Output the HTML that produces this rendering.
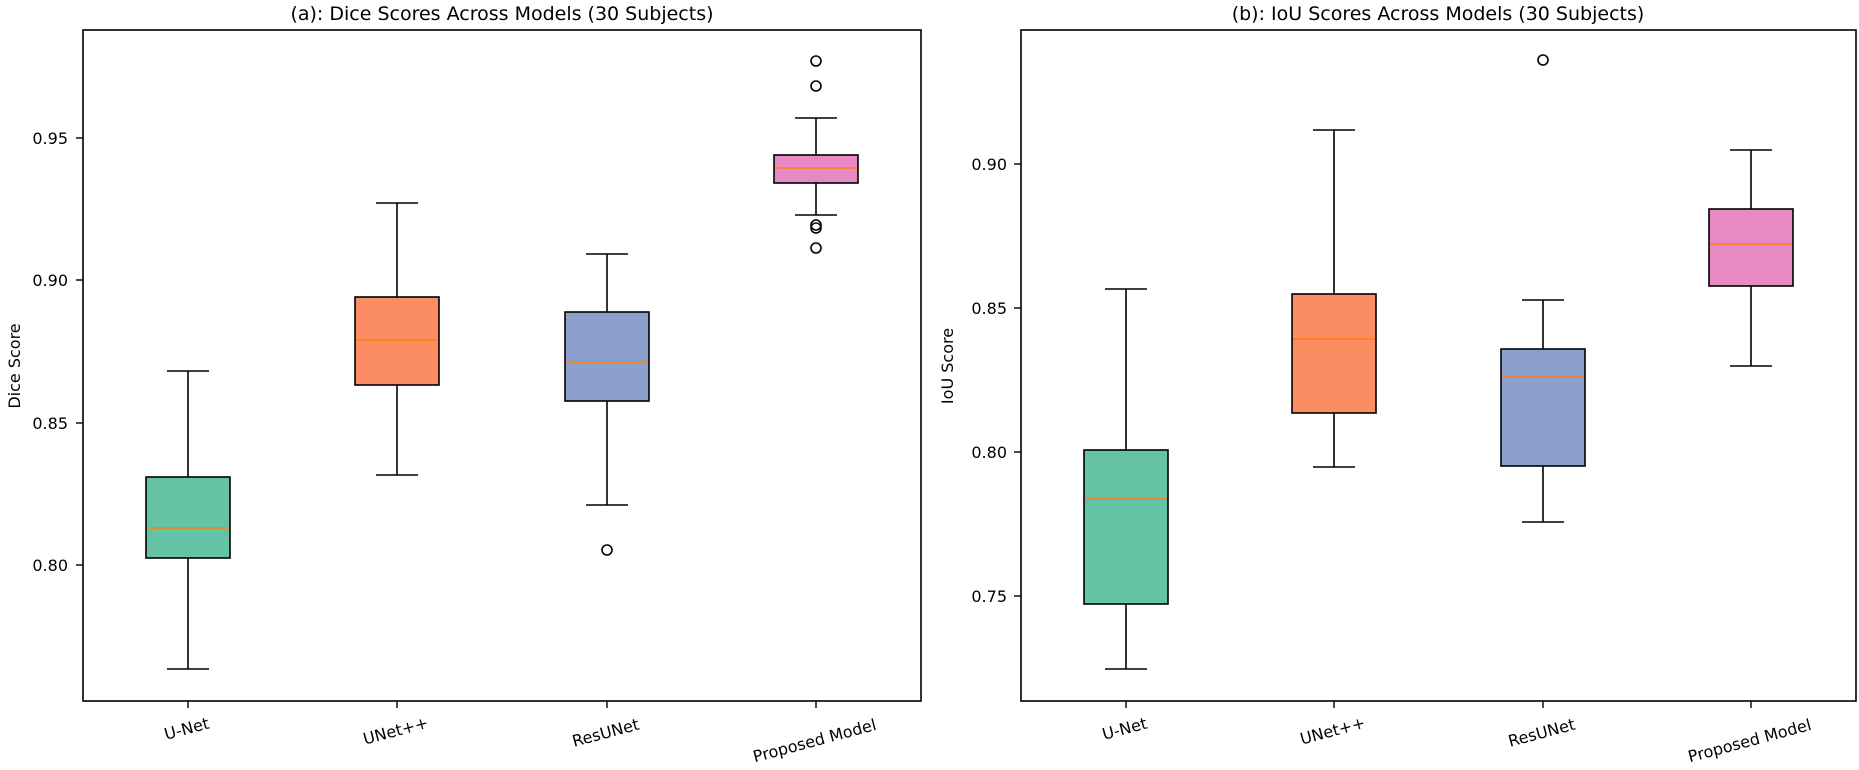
<!DOCTYPE html>
<html><head><meta charset="utf-8"><style>
html,body{margin:0;padding:0;background:#fff;}
svg{display:block;font-family:"DejaVu Sans","Liberation Sans",sans-serif;}
</style></head><body>
<svg width="1859" height="770" viewBox="0 0 1859 770" xmlns="http://www.w3.org/2000/svg">
<rect width="1859" height="770" fill="#fff"/>
<text x="502" y="20" font-size="19" text-anchor="middle">(a): Dice Scores Across Models (30 Subjects)</text>
<text x="1438" y="20" font-size="19" text-anchor="middle">(b): IoU Scores Across Models (30 Subjects)</text>

<g stroke="#000" stroke-width="1.6" fill="none">
<line x1="188" y1="371" x2="188" y2="477"/><line x1="167" y1="371" x2="209" y2="371"/>
<line x1="188" y1="558" x2="188" y2="669"/><line x1="167" y1="669" x2="209" y2="669"/>
<rect x="146" y="477" width="84" height="81" fill="#66c2a5"/>
<line x1="397" y1="203" x2="397" y2="297"/><line x1="376" y1="203" x2="418" y2="203"/>
<line x1="397" y1="385" x2="397" y2="475"/><line x1="376" y1="475" x2="418" y2="475"/>
<rect x="355" y="297" width="84" height="88" fill="#fc8d62"/>
<line x1="607" y1="254" x2="607" y2="312"/><line x1="586" y1="254" x2="628" y2="254"/>
<line x1="607" y1="401" x2="607" y2="505"/><line x1="586" y1="505" x2="628" y2="505"/>
<rect x="565" y="312" width="84" height="89" fill="#8da0cb"/>
<circle cx="607" cy="550" r="5"/>
<line x1="816" y1="118" x2="816" y2="155"/><line x1="795" y1="118" x2="837" y2="118"/>
<line x1="816" y1="183" x2="816" y2="215"/><line x1="795" y1="215" x2="837" y2="215"/>
<rect x="774" y="155" width="84" height="28" fill="#e78ac3"/>
<circle cx="816" cy="61" r="5"/><circle cx="816" cy="86" r="5"/>
<circle cx="816" cy="225" r="5"/><circle cx="816" cy="228" r="5"/><circle cx="816" cy="248" r="5"/>
</g>
<g stroke="#ff7f0e" stroke-width="1.6">
<line x1="147" y1="528" x2="229" y2="528"/>
<line x1="356" y1="340" x2="438" y2="340"/>
<line x1="566" y1="362" x2="648" y2="362"/>
<line x1="775" y1="168" x2="857" y2="168"/>
</g>
<rect x="83" y="30" width="838" height="671" fill="none" stroke="#000" stroke-width="1.6"/>
<g stroke="#000" stroke-width="1.4">
<line x1="76" y1="138" x2="83" y2="138"/><line x1="76" y1="280" x2="83" y2="280"/>
<line x1="76" y1="423" x2="83" y2="423"/><line x1="76" y1="565" x2="83" y2="565"/>
<line x1="188" y1="701" x2="188" y2="708"/><line x1="397" y1="701" x2="397" y2="708"/>
<line x1="607" y1="701" x2="607" y2="708"/><line x1="816" y1="701" x2="816" y2="708"/>
</g>
<g font-size="16" text-anchor="end">
<text x="68" y="144">0.95</text><text x="68" y="286">0.90</text>
<text x="68" y="429">0.85</text><text x="68" y="571">0.80</text>
</g>
<text transform="translate(20,366) rotate(-90)" font-size="16" text-anchor="middle">Dice Score</text>
<g font-size="16" text-anchor="middle">
<text transform="translate(188,734) rotate(-15)">U-Net</text>
<text transform="translate(397,736) rotate(-15)">UNet++</text>
<text transform="translate(607,738) rotate(-15)">ResUNet</text>
<text transform="translate(816,746) rotate(-15)">Proposed Model</text>
</g>

<g stroke="#000" stroke-width="1.6" fill="none">
<line x1="1126" y1="289" x2="1126" y2="450"/><line x1="1105" y1="289" x2="1147" y2="289"/>
<line x1="1126" y1="604" x2="1126" y2="669"/><line x1="1105" y1="669" x2="1147" y2="669"/>
<rect x="1084" y="450" width="84" height="154" fill="#66c2a5"/>
<line x1="1334" y1="130" x2="1334" y2="294"/><line x1="1313" y1="130" x2="1355" y2="130"/>
<line x1="1334" y1="413" x2="1334" y2="467"/><line x1="1313" y1="467" x2="1355" y2="467"/>
<rect x="1292" y="294" width="84" height="119" fill="#fc8d62"/>
<line x1="1543" y1="300" x2="1543" y2="349"/><line x1="1522" y1="300" x2="1564" y2="300"/>
<line x1="1543" y1="466" x2="1543" y2="522"/><line x1="1522" y1="522" x2="1564" y2="522"/>
<rect x="1501" y="349" width="84" height="117" fill="#8da0cb"/>
<circle cx="1543" cy="60" r="5"/>
<line x1="1751" y1="150" x2="1751" y2="209"/><line x1="1730" y1="150" x2="1772" y2="150"/>
<line x1="1751" y1="286" x2="1751" y2="366"/><line x1="1730" y1="366" x2="1772" y2="366"/>
<rect x="1709" y="209" width="84" height="77" fill="#e78ac3"/>
</g>
<g stroke="#ff7f0e" stroke-width="1.6">
<line x1="1085" y1="499" x2="1167" y2="499"/>
<line x1="1293" y1="339" x2="1375" y2="339"/>
<line x1="1502" y1="377" x2="1584" y2="377"/>
<line x1="1710" y1="244" x2="1792" y2="244"/>
</g>
<rect x="1021" y="30" width="835" height="671" fill="none" stroke="#000" stroke-width="1.6"/>
<g stroke="#000" stroke-width="1.4">
<line x1="1014" y1="164" x2="1021" y2="164"/><line x1="1014" y1="308" x2="1021" y2="308"/>
<line x1="1014" y1="452" x2="1021" y2="452"/><line x1="1014" y1="596" x2="1021" y2="596"/>
<line x1="1126" y1="701" x2="1126" y2="708"/><line x1="1334" y1="701" x2="1334" y2="708"/>
<line x1="1543" y1="701" x2="1543" y2="708"/><line x1="1751" y1="701" x2="1751" y2="708"/>
</g>
<g font-size="16" text-anchor="end">
<text x="1007" y="170">0.90</text><text x="1007" y="314">0.85</text>
<text x="1007" y="458">0.80</text><text x="1007" y="602">0.75</text>
</g>
<text transform="translate(953,366) rotate(-90)" font-size="16" text-anchor="middle">IoU Score</text>
<g font-size="16" text-anchor="middle">
<text transform="translate(1126,734) rotate(-15)">U-Net</text>
<text transform="translate(1334,736) rotate(-15)">UNet++</text>
<text transform="translate(1543,738) rotate(-15)">ResUNet</text>
<text transform="translate(1751,746) rotate(-15)">Proposed Model</text>
</g>
</svg>
</body></html>
